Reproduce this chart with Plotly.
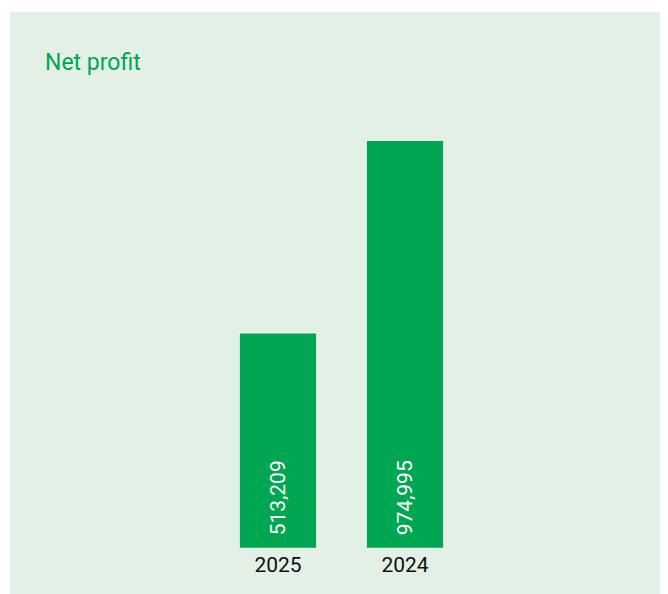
import plotly.graph_objects as go

categories = ["2025", "2024"]
net_profit = [513209, 974995]
value_labels = ["513,209", "974,995"]

GREEN = "#00a651"
BG = "#e2f0e6"
FONT = "Roboto"

W, H = 668, 594
# the page is offset by the browser's 8px body margin
ml, mr, mt, mb = 2, 0, 4, 54
plot_h = H - mt - mb

fig = go.Figure(
    go.Bar(
        x=categories,
        y=net_profit,
        marker=dict(color=GREEN, line=dict(width=0)),
        width=0.6,
        hoverinfo="skip",
    )
)

ymax = 974995 * plot_h / 407
ymin = -ymax * 0.0005

# category axis: annotations use the category index
for i, lab in enumerate(value_labels):
    fig.add_annotation(
        x=i,
        y=0,
        xref="x",
        yref="y",
        text=lab,
        textangle=-90,
        showarrow=False,
        xanchor="center",
        yanchor="bottom",
        yshift=10,
        font=dict(family=FONT, size=21, color="white"),
    )

fig.update_layout(
    width=W,
    height=H,
    margin=dict(l=ml, r=mr, t=mt, b=mb),
    paper_bgcolor="white",
    plot_bgcolor=BG,
    showlegend=False,
    title=dict(
        text="Net profit",
        font=dict(family=FONT, size=23, color=GREEN),
        x=37 / W,
        xanchor="left",
        xref="container",
        y=1 - 54 / H,
        yanchor="middle",
        yref="container",
    ),
    xaxis=dict(
        type="category",
        range=[-268 / 127, 398 / 127],
        showgrid=False,
        zeroline=False,
        showline=False,
        ticks="",
        ticklabelstandoff=2,
        tickfont=dict(family=FONT, size=21, color="#111111"),
        fixedrange=True,
    ),
    yaxis=dict(
        range=[ymin, ymax],
        visible=False,
        showgrid=False,
        zeroline=False,
        fixedrange=True,
    ),
    shapes=[
        dict(
            type="rect",
            xref="paper",
            yref="paper",
            x0=0,
            x1=1,
            y0=-mb / plot_h,
            y1=1,
            fillcolor=BG,
            line=dict(width=0),
            layer="below",
        )
    ],
)

fig.write_html("out.html")
